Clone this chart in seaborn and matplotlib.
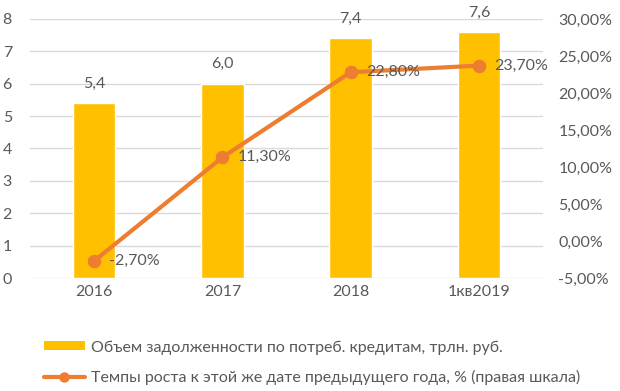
import seaborn as sns
import matplotlib.pyplot as plt
import pandas as pd
from matplotlib.patches import Patch
from matplotlib.lines import Line2D

# Data
periods = ['2016', '2017', '2018', '1кв2019']
debt = [5.4, 6.0, 7.4, 7.6]
growth = [-2.7, 11.3, 22.8, 23.7]

bar_label = 'Объем задолженности по потреб. кредитам, трлн. руб.'
line_label = 'Темпы роста к этой же дате предыдущего года, % (правая шкала)'

df = pd.DataFrame({'period': periods, 'debt': debt, 'growth': growth})

sns.set_style('white')
plt.rcParams['font.family'] = ['Lato', 'DejaVu Sans']

bar_color = '#FFC000'
line_color = '#ED7D31'
text_color = '#595959'
grid_color = '#D9D9D9'

fig = plt.figure(figsize=(6.2, 3.91), dpi=100)
ax = fig.add_axes([0.0484, 0.289, 0.8274, 0.6625])

sns.barplot(data=df, x='period', y='debt', color=bar_color, width=0.33,
            saturation=1, ax=ax, zorder=2)
ax.set_ylim(0, 8)
ax.set_yticks(range(0, 9))
ax.grid(axis='y', color=grid_color, linewidth=1, zorder=0)
ax.set_axisbelow(True)
ax.set_xlim(-0.5, 3.5)
ax.set_xlabel('')
ax.set_ylabel('')
for s in ax.spines.values():
    s.set_visible(False)
ax.tick_params(axis='both', length=0, labelsize=11.5, colors=text_color, pad=5)
ax.tick_params(axis='y', pad=13)

# bar value labels
for i, v in enumerate(df['debt']):
    ax.annotate(f'{v:.1f}'.replace('.', ','), (i, v), xytext=(0, 14),
                textcoords='offset points', ha='center', va='center',
                fontsize=11.5, color=text_color)

ax2 = ax.twinx()
sns.pointplot(data=df, x='period', y='growth', color=line_color, ax=ax2,
              markers='o', linewidth=3, markersize=7.5, zorder=3)
ax2.set_ylim(-5, 30)
ax2.set_yticks(range(-5, 31, 5))
ax2.set_yticklabels([f'{t:.2f}%'.replace('.', ',') for t in range(-5, 31, 5)])
ax2.set_xlim(-0.5, 3.5)
ax2.set_xlabel('')
ax2.set_ylabel('')
for s in ax2.spines.values():
    s.set_visible(False)
ax2.tick_params(axis='y', length=0, labelsize=11.5, colors=text_color, pad=11)

for i, v in enumerate(df['growth']):
    ax2.annotate(f'{v:.2f}%'.replace('.', ','), (i, v), xytext=(11, 0),
                 textcoords='offset points', ha='left', va='center',
                 fontsize=11.5, color=text_color)

# legend
handles = [Patch(facecolor=bar_color, edgecolor='none'),
           Line2D([0], [0], color=line_color, linewidth=3, marker='o', markersize=6.5)]
fig.legend(handles, [bar_label, line_label], loc='lower left',
           bbox_to_anchor=(0.071, 0.016), frameon=False, fontsize=11.5,
           labelcolor=text_color, handlelength=2.55, handleheight=0.5,
           handletextpad=0.37, labelspacing=0.95, borderpad=0, borderaxespad=0)

plt.savefig('out.png', dpi=100)
